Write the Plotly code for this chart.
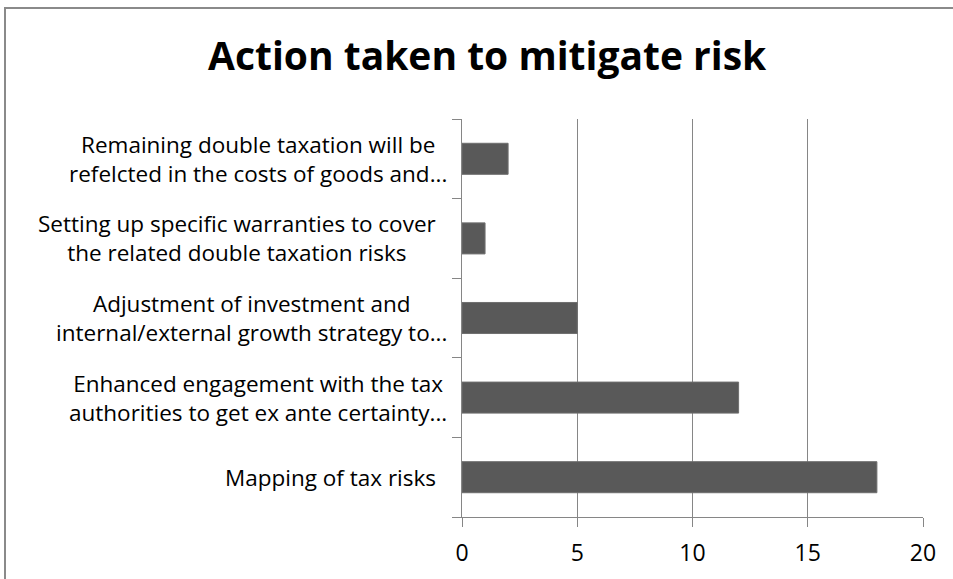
import plotly.graph_objects as go

categories = [
    "Mapping of tax risks",
    "Enhanced engagement with the tax<br>authorities to get ex ante certainty...",
    "Adjustment of investment and<br>internal/external growth strategy to...",
    "Setting up specific warranties to cover<br>the related double taxation risks",
    "Remaining double taxation will be<br>refelcted in the costs of goods and...",
]
values = [18, 12, 5, 1, 2]
x_ticks = [0, 5, 10, 15, 20]
title_text = "Action taken to mitigate risk"

W, H = 953, 579
L, R, T, B = 462, 30, 119, 62
FONT = "Open Sans"
LABEL_SIZE = 22.5

fig = go.Figure(go.Bar(
    y=categories, x=values, orientation="h",
    marker=dict(color="#595959", line=dict(color="#6f6f6f", width=1)),
))

pw = W - L - R
ph = H - T - B

annotations = []
for c in categories:
    right_px = 449 if c.endswith("...") else 438
    annotations.append(dict(
        x=(right_px - L) / pw, xref="paper", y=c, yref="y", text=c, showarrow=False,
        xanchor="right", yanchor="middle", align="center",
        font=dict(family=FONT, size=LABEL_SIZE, color="#000000"),
    ))
annotations.append(dict(
    x=(487 - L) / pw, xref="paper", y=(H - B - 55) / ph, yref="paper",
    text="<b>" + title_text + "</b>", showarrow=False, xanchor="center", yanchor="middle",
    font=dict(family=FONT, size=39, color="#000000"),
))

shapes = [dict(
    type="rect", xref="paper", yref="paper",
    x0=(5 - L) / pw, x1=(W + 20 - L) / pw,
    y0=(H - B - (H + 20)) / ph, y1=(H - B - 8) / ph,
    line=dict(color="#8a8a8a", width=2), fillcolor="rgba(0,0,0,0)", layer="below",
)]

fig.update_layout(
    width=W, height=H, margin=dict(l=L, r=R, t=T, b=B),
    paper_bgcolor="white", plot_bgcolor="white",
    showlegend=False, bargap=0.61,
    annotations=annotations, shapes=shapes,
    xaxis=dict(
        range=[0, 20], tickvals=x_ticks, ticks="outside", ticklen=9, tickcolor="#868686",
        showgrid=True, gridcolor="#868686", gridwidth=1, zeroline=False,
        showline=True, linecolor="#868686", linewidth=1,
        ticklabelstandoff=6,
        tickfont=dict(family=FONT, size=23, color="#000000"),
    ),
    yaxis=dict(
        type="category", categoryorder="array", categoryarray=categories,
        showticklabels=False, ticks="outside", ticklen=9, tickcolor="#868686",
        tickson="boundaries", showgrid=False, zeroline=False,
        showline=True, linecolor="#868686", linewidth=1,
    ),
)

fig.write_html("out.html", config={"displayModeBar": False},
               post_script="document.body.style.margin='0';document.body.style.overflow='hidden';")
